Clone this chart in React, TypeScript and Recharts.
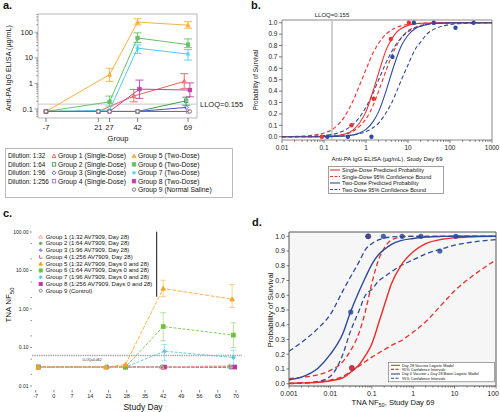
import React from 'react'
import {
  ComposedChart, Line, Scatter, XAxis, YAxis, ReferenceLine, ReferenceArea, ErrorBar, CartesianGrid,
} from 'recharts'

const FONT = '"Liberation Sans", Arial, sans-serif'

// ---------- panel a: anti-PA IgG ELISA by day ----------
const aDays = [-7, 21, 27, 42, 69]
const aMajor = [0.1, 1, 10, 100]
const aMinor = [0.05, 0.06, 0.07, 0.08, 0.09, 0.2, 0.3, 0.4, 0.5, 0.6, 0.7, 0.8, 0.9, 2, 3, 4, 5, 6, 7, 8, 9, 20, 30, 40, 50, 60, 70, 80, 90, 200, 300, 400, 500]

const a1Day = [-7, 21, 40, 67]
const a1Val = [0.08, 0.08, 0.32, 1.2]
const a1Lo = [null, null, 0.19, 0.64]
const a1Hi = [null, null, 0.58, 2.4]
const a2Day = [-7, 21, 42, 68]
const a2Val = [0.08, 0.08, 0.08, 0.21]
const a2Lo = [null, null, null, 0.14]
const a2Hi = [null, null, null, 0.29]
const a3Day = [-7, 21, 42, 68]
const a3Val = [0.08, 0.08, 0.08, 0.115]
const a4Day = [-7, 21, 42, 69]
const a4Val = [0.08, 0.08, 0.08, 0.08]
const a5Day = [-7, 27, 42, 69]
const a5Val = [0.08, 2.2, 250, 190]
const a5Lo = [null, 1.2, 195, 145]
const a5Hi = [null, 3.9, 340, 260]
const a6Day = [-7, 27, 42, 69]
const a6Val = [0.08, 0.19, 60, 33]
const a6Lo = [null, 0.13, 40, 25]
const a6Hi = [null, 0.32, 95, 55]
const a7Day = [-7, 27, 42, 69]
const a7Val = [0.08, 0.09, 24, 14]
const a7Lo = [null, null, 15, 8.2]
const a7Hi = [null, null, 32, 21]
const a8Day = [-7, 27, 43, 70]
const a8Val = [0.08, 0.08, 0.6, 0.55]
const a8Lo = [null, null, 0.26, 0.3]
const a8Hi = [null, null, 1.35, 1.05]
const a9Day = [-7, 21, 27, 42, 70]
const a9Val = [0.08, 0.08, 0.08, 0.08, 0.08]

const aDilutions = ['Dilution: 1:32', 'Dilution: 1:64', 'Dilution: 1:96', 'Dilution: 1:256']
const aNames = [
  'Group 1 (Single-Dose)', 'Group 2 (Single-Dose)', 'Group 3 (Single-Dose)', 'Group 4 (Single-Dose)',
  'Group 5 (Two-Dose)', 'Group 6 (Two-Dose)', 'Group 7 (Two-Dose)', 'Group 8 (Two-Dose)', 'Group 9 (Normal Saline)',
]

// ---------- panel b: survival vs ELISA ----------
const bX = [0.01, 0.03, 0.1, 0.2, 0.3, 0.5, 0.7, 1, 1.5, 2, 3, 4, 5, 7, 10, 15, 20, 30, 50, 100, 300, 1000]
const bSinglePred = [0, 0, 0.002, 0.009, 0.021, 0.06, 0.12, 0.22, 0.41, 0.56, 0.76, 0.85, 0.905, 0.95, 0.977, 0.99, 0.995, 0.998, 1, 1, 1, 1]
const bSingleUp = [0.001, 0.005, 0.032, 0.093, 0.17, 0.32, 0.45, 0.59, 0.74, 0.82, 0.9, 0.935, 0.954, 0.973, 0.985, 0.992, 0.995, 0.997, 0.999, 1, 1, 1]
const bSingleLow = [0, 0, 0.003, 0.01, 0.021, 0.05, 0.09, 0.157, 0.28, 0.4, 0.58, 0.7, 0.78, 0.87, 0.93, 0.96, 0.978, 0.99, 0.996, 0.999, 1, 1]
const bTwoPred = [0, 0, 0.0006, 0.002, 0.0056, 0.016, 0.032, 0.064, 0.137, 0.22, 0.4, 0.55, 0.66, 0.8, 0.89, 0.95, 0.97, 0.988, 0.996, 0.999, 1, 1]
const bTwoUp = [0, 0.002, 0.0105, 0.029, 0.054, 0.11, 0.17, 0.26, 0.39, 0.5, 0.65, 0.74, 0.8, 0.87, 0.92, 0.956, 0.97, 0.984, 0.993, 0.997, 1, 1]
const bTwoLow = [0, 0, 0.0013, 0.0038, 0.0072, 0.016, 0.027, 0.045, 0.081, 0.12, 0.21, 0.29, 0.37, 0.5, 0.63, 0.77, 0.83, 0.91, 0.955, 0.984, 0.997, 1]
const bSingleObsX = [0.089, 0.45, 1.52, 3.9, 10.5]
const bSingleObsP = [0, 0.1, 0.333, 0.857, 1]
const bTwoObsX = [0.12, 0.37, 1.35, 4.26, 13.8, 41, 135, 364]
const bTwoObsP = [0, 0, 0, 0.7, 1, 1, 0.956, 1]
const bLegend = [
  'Single-Dose Predicted Probability', 'Single-Dose 95% Confidence Bound',
  'Two-Dose Predicted Probability', 'Two-Dose 95% Confidence Bound',
]

// ---------- panel c: TNA NF50 by study day ----------
const cDayTicks = [-7, 0, 7, 14, 21, 28, 35, 42, 49, 56, 63, 70]
const cMajor = [0.01, 0.1, 1, 10, 100]
const cMajorLabels = ['0.01', '0.10', '1.00', '10.00', '100.00']
const cMinor = [0.02, 0.05, 0.2, 0.5, 2, 5, 20, 50]
const c1Day = [-6, 20, 41.5, 67.5]
const c1Val = [0.031, 0.031, 0.031, 0.033]
const c2Day = [-6, 20, 41.5, 67.5]
const c2Val = [0.031, 0.031, 0.031, 0.031]
const c3Day = [-6, 20.5, 41.5, 68]
const c3Val = [0.031, 0.031, 0.031, 0.031]
const c4Day = [-6, 20.5, 42, 68]
const c4Val = [0.031, 0.031, 0.031, 0.031]
const c5Day = [-6, 20, 27.5, 42, 68.5]
const c5Val = [0.031, 0.031, 0.036, 3.4, 1.8]
const c5Lo = [null, null, null, 2.1, 1.1]
const c5Hi = [null, null, null, 5.6, 4.3]
const c6Day = [-6, 27.5, 42, 69]
const c6Val = [0.031, 0.031, 0.35, 0.21]
const c6Lo = [null, null, 0.15, 0.1]
const c6Hi = [null, null, 0.8, 0.44]
const c7Day = [-6, 27.5, 42.5, 69]
const c7Val = [0.031, 0.031, 0.08, 0.055]
const c7Lo = [null, null, 0.045, 0.035]
const c7Hi = [null, null, 0.12, 0.085]
const c8Day = [-6, 27.5, 42.5, 69.5]
const c8Val = [0.031, 0.031, 0.031, 0.031]
const c9Day = [-6, 20.5, 41.5, 68]
const c9Val = [0.031, 0.031, 0.031, 0.031]
const cNames = [
  'Group 1 (1:32 AV7909, Day 28)', 'Group 2 (1:64 AV7909, Day 28)', 'Group 3 (1:96 AV7909, Day 28)',
  'Group 4 (1:256 AV7909, Day 28)', 'Group 5 (1:32 AV7909, Days 0 and 28)', 'Group 6 (1:64 AV7909, Days 0 and 28)',
  'Group 7 (1:96 AV7909, Days 0 and 28)', 'Group 8 (1:256 AV7909, Days 0 and 28)', 'Group 9 (Control)',
]

// ---------- panel d: survival vs TNA NF50 ----------
const dX = [0.001, 0.002, 0.005, 0.01, 0.02, 0.03, 0.05, 0.07, 0.1, 0.15, 0.2, 0.3, 0.5, 1, 2, 5, 10, 30, 100]
const dD28Pred = [0.003, 0.005, 0.01, 0.02, 0.04, 0.075, 0.13, 0.19, 0.27, 0.42, 0.53, 0.68, 0.8, 0.895, 0.95, 0.98, 0.99, 0.997, 0.999]
const dD28Up = [0.035, 0.043, 0.06, 0.09, 0.15, 0.22, 0.35, 0.49, 0.68, 0.85, 0.92, 0.975, 0.993, 1, 1, 1, 1, 1, 1]
const dD28Low = [0, 0.003, 0.01, 0.025, 0.05, 0.08, 0.12, 0.15, 0.18, 0.21, 0.23, 0.26, 0.29, 0.35, 0.42, 0.54, 0.63, 0.74, 0.84]
const dBoostPred = [0.027, 0.045, 0.105, 0.2, 0.34, 0.48, 0.63, 0.72, 0.81, 0.88, 0.91, 0.945, 0.97, 0.985, 0.995, 0.999, 1, 1, 1]
const dBoostUp = [0.22, 0.28, 0.375, 0.47, 0.63, 0.72, 0.83, 0.91, 0.95, 0.977, 0.988, 0.995, 0.998, 1, 1, 1, 1, 1, 1]
const dBoostLow = [0.002, 0.005, 0.015, 0.05, 0.2, 0.35, 0.5, 0.6, 0.64, 0.7, 0.725, 0.76, 0.8, 0.84, 0.88, 0.915, 0.94, 0.962, 0.977]
const dBoostObsX = [0.031, 0.081, 0.19, 0.54, 1.54, 4.4, 10.7]
const dBoostObsP = [0.486, 1, 1, 1, 1, 0.9, 1]
const dD28ObsX = [0.033, 0.082]
const dD28ObsP = [0.107, 1]
const dMajor = [0.001, 0.01, 0.1, 1, 10, 100]
const dLegend = [
  'Day 28 Vaccine Logistic Model', '95% Confidence Intervals',
  'Day 0 Vaccine + Day 28 Boost Logistic Model', '95% Confidence Intervals',
]

const probTicks = [0, 0.1, 0.2, 0.3, 0.4, 0.5, 0.6, 0.7, 0.8, 0.9, 1]

// minor log ticks 2..9 per decade
const logMinors = (from: number, to: number) => {
  const out: number[] = []
  for (let e = from; e < to; e++) for (let k = 2; k <= 9; k++) out.push(Number((k * Math.pow(10, e)).toPrecision(3)))
  return out
}

const rowsOf = (xs: number[], ys: number[], lo?: (number | null)[], hi?: (number | null)[]) =>
  xs.map((x, i) => ({
    x,
    y: ys[i],
    err: lo && hi && lo[i] != null && hi[i] != null ? [ys[i] - (lo[i] as number), (hi[i] as number) - ys[i]] : undefined,
  }))

const isIn = (list: number[], v: number) => list.some((m) => Math.abs(m - v) <= 1e-6 * Math.abs(m))

// ---------- markers ----------
function Mk({ x, y, shape, color, s = 2.4 }: { x: number; y: number; shape: string; color: string; s?: number }) {
  const sw = 0.9
  switch (shape) {
    case 'tri':
    case 'triF':
      return <polygon points={`${x},${y - s} ${x + s},${y + s * 0.8} ${x - s},${y + s * 0.8}`} fill={shape === 'triF' ? color : 'none'} stroke={color} strokeWidth={sw} />
    case 'sq':
    case 'sqF':
      return <rect x={x - s * 0.85} y={y - s * 0.85} width={s * 1.7} height={s * 1.7} fill={shape === 'sqF' ? color : 'none'} stroke={color} strokeWidth={sw} />
    case 'dia':
    case 'diaF':
      return <polygon points={`${x},${y - s} ${x + s},${y} ${x},${y + s} ${x - s},${y}`} fill={shape === 'diaF' ? color : 'none'} stroke={color} strokeWidth={sw} />
    case 'circ':
      return <circle cx={x} cy={y} r={s * 0.85} fill="#fff" stroke={color} strokeWidth={sw} />
    case 'circF':
      return <circle cx={x} cy={y} r={s * 0.85} fill={color} />
    case 'L':
      return <path d={`M${x - s * 0.6},${y - s} L${x - s * 0.6},${y + s * 0.7} L${x + s},${y + s * 0.7}`} fill="none" stroke={color} strokeWidth={sw} />
    case 'star':
      return (
        <g stroke={color} strokeWidth={sw}>
          <line x1={x - s} x2={x + s} y1={y} y2={y} />
          <line x1={x} x2={x} y1={y - s} y2={y + s} />
          <line x1={x - s * 0.7} x2={x + s * 0.7} y1={y - s * 0.7} y2={y + s * 0.7} />
          <line x1={x - s * 0.7} x2={x + s * 0.7} y1={y + s * 0.7} y2={y - s * 0.7} />
        </g>
      )
    default:
      return <circle cx={x} cy={y} r={s * 0.8} fill={color} />
  }
}

const dotOf = (shape: string, color: string, s?: number) => (p: any) => {
  if (p.cx == null || p.cy == null) return <g key={p.index} />
  return (
    <g key={`d${p.index}`}>
      <Mk x={p.cx} y={p.cy} shape={shape} color={color} s={s} />
    </g>
  )
}

// ---------- ticks ----------
type TickOpt = {
  side: 'left' | 'bottom'
  majors: number[]
  fmt: (v: number) => string
  fs: number
  size: number
  margin: number
  majorLen: number
  minorLen: number
  color?: string
  lineColor?: string
  maxX?: number
}
const makeTick = (o: TickOpt) => (p: any) => {
  const v = p.payload.value
  const major = isIn(o.majors, v)
  const len = major ? o.majorLen : o.minorLen
  const lc = o.lineColor || '#444'
  if (o.side === 'left') {
    const ax = p.x + o.size + o.margin
    return (
      <g>
        <line x1={ax} x2={ax - len} y1={p.y} y2={p.y} stroke={lc} strokeWidth={0.7} />
        {major && (
          <text x={ax - o.majorLen - 1.5} y={p.y} dy="0.35em" textAnchor="end" fontSize={o.fs} fill={o.color || '#222'} fontFamily={FONT}>
            {o.fmt(v)}
          </text>
        )}
      </g>
    )
  }
  const ay = p.y - o.size - o.margin
  const label = major ? o.fmt(v) : ''
  const halfW = label.length * o.fs * 0.28
  const clamp = o.maxX != null && p.x + halfW > o.maxX
  return (
    <g>
      <line x1={p.x} x2={p.x} y1={ay} y2={ay + len} stroke={lc} strokeWidth={0.7} />
      {major && (
        <text x={clamp ? o.maxX : p.x} y={ay + o.majorLen + 1.5} dy="0.8em" textAnchor={clamp ? 'end' : 'middle'} fontSize={o.fs} fill={o.color || '#222'} fontFamily={FONT}>
          {label}
        </text>
      )}
    </g>
  )
}

// ---------- panel a ----------
const aGroups = [
  { rows: rowsOf(a1Day, a1Val, a1Lo, a1Hi), color: '#f0605a', shape: 'tri' },
  { rows: rowsOf(a2Day, a2Val, a2Lo, a2Hi), color: '#3c9c5c', shape: 'sq' },
  { rows: rowsOf(a3Day, a3Val), color: '#5050c8', shape: 'dia' },
  { rows: rowsOf(a4Day, a4Val), color: '#b070c4', shape: 'sq' },
  { rows: rowsOf(a5Day, a5Val, a5Lo, a5Hi), color: '#f9b040', shape: 'triF' },
  { rows: rowsOf(a6Day, a6Val, a6Lo, a6Hi), color: '#66c266', shape: 'sqF' },
  { rows: rowsOf(a7Day, a7Val, a7Lo, a7Hi), color: '#4ccdf0', shape: 'star' },
  { rows: rowsOf(a8Day, a8Val, a8Lo, a8Hi), color: '#c040a0', shape: 'sqF' },
  { rows: rowsOf(a9Day, a9Val), color: '#707070', shape: 'circ' },
]

function PanelA() {
  const xd: [number, number] = [-11.28, 73.8]
  const yd: [number, number] = [0.0444, 520]
  return (
    <ComposedChart width={250} height={145} margin={{ top: 14, right: 53, bottom: 0, left: 0 }}>
      <XAxis type="number" dataKey="x" domain={xd} ticks={aDays} allowDataOverflow interval={0} height={27}
        axisLine={false} tickLine={false} tickSize={4} tickMargin={2}
        tick={makeTick({ side: 'bottom', majors: aDays, fmt: String, fs: 7.5, size: 4, margin: 2, majorLen: 4, minorLen: 2 })} />
      <YAxis type="number" dataKey="y" scale="log" domain={yd} ticks={[...aMajor, ...aMinor]} allowDataOverflow interval={0} width={38}
        axisLine={false} tickLine={false} tickSize={4} tickMargin={2}
        tick={makeTick({ side: 'left', majors: aMajor, fmt: String, fs: 7.5, size: 4, margin: 2, majorLen: 3.5, minorLen: 1.8, lineColor: '#777' })} />
      <ReferenceArea x1={xd[0]} x2={xd[1]} y1={yd[0]} y2={yd[1]} fill="none" stroke="#b8b8b8" strokeWidth={1} />
      <ReferenceLine y={0.155} stroke="#c8c8c8" strokeWidth={1}
        label={{ value: 'LLOQ=0.155', position: 'right', fontSize: 7.5, fill: '#222', fontFamily: FONT, offset: 3 }} />
      {aGroups.map((g, i) => (
        <Line key={i} data={g.rows} dataKey="y" type="linear" stroke={g.color} strokeWidth={1}
          dot={dotOf(g.shape, g.color, 2)} activeDot={false} isAnimationActive={false}>
          <ErrorBar dataKey="err" width={4} stroke={g.color} strokeWidth={0.9} direction="y" />
        </Line>
      ))}
    </ComposedChart>
  )
}

// ---------- panel b ----------
const bRows = bX.map((x, i) => ({ x, sp: bSinglePred[i], su: bSingleUp[i], sl: bSingleLow[i], tp: bTwoPred[i], tu: bTwoUp[i], tl: bTwoLow[i] }))
const bSingleObs = bSingleObsX.map((x, i) => ({ x, y: bSingleObsP[i] }))
const bTwoObs = bTwoObsX.map((x, i) => ({ x, y: bTwoObsP[i] }))
const RED = '#ee3030'
const BLUE = '#2e4a9c'

function PanelB() {
  const xd: [number, number] = [0.01, 1000]
  const yd: [number, number] = [-0.029, 1.024]
  const xMajor = [0.01, 0.1, 1, 10, 100, 1000]
  return (
    <ComposedChart width={250} height={160} data={bRows} margin={{ top: 20, right: 8, bottom: 0, left: 0 }}>
      <XAxis type="number" dataKey="x" scale="log" domain={xd} ticks={[...xMajor, ...logMinors(-2, 3)]} allowDataOverflow interval={0}
        height={20} axisLine={false} tickLine={false} tickSize={3} tickMargin={2}
        tick={makeTick({ side: 'bottom', majors: xMajor, fmt: String, fs: 6.5, size: 3, margin: 2, majorLen: 3, minorLen: 1.8 })} />
      <YAxis type="number" domain={yd} ticks={probTicks} allowDataOverflow interval={0} width={32}
        axisLine={false} tickLine={false} tickSize={3} tickMargin={2}
        tick={makeTick({ side: 'left', majors: probTicks, fmt: (v) => v.toFixed(1), fs: 6.5, size: 3, margin: 2, majorLen: 3, minorLen: 0 })} />
      <ReferenceArea x1={xd[0]} x2={xd[1]} y1={yd[0]} y2={yd[1]} fill="none" stroke="#8a8a8a" strokeWidth={1} />
      <ReferenceLine x={0.155} stroke="#c4c4c4" strokeWidth={1.6}
        label={{ value: 'LLOQ=0.155', position: 'top', fontSize: 6, fill: '#222', fontFamily: FONT, offset: 3 }} />
      <Line dataKey="su" type="monotone" stroke={RED} strokeWidth={1.1} strokeDasharray="4 2.5" dot={false} activeDot={false} isAnimationActive={false} />
      <Line dataKey="sl" type="monotone" stroke={RED} strokeWidth={1.1} strokeDasharray="4 2.5" dot={false} activeDot={false} isAnimationActive={false} />
      <Line dataKey="tu" type="monotone" stroke={BLUE} strokeWidth={1.1} strokeDasharray="4 2.5" dot={false} activeDot={false} isAnimationActive={false} />
      <Line dataKey="tl" type="monotone" stroke={BLUE} strokeWidth={1.1} strokeDasharray="4 2.5" dot={false} activeDot={false} isAnimationActive={false} />
      <Line dataKey="sp" type="monotone" stroke={RED} strokeWidth={1.1} dot={false} activeDot={false} isAnimationActive={false} />
      <Line dataKey="tp" type="monotone" stroke={BLUE} strokeWidth={1.1} dot={false} activeDot={false} isAnimationActive={false} />
      <Scatter data={bSingleObs} dataKey="y" fill={RED} isAnimationActive={false}
        shape={(p: any) => <circle cx={p.cx} cy={p.cy} r={2.2} fill={RED} />} />
      <Scatter data={bTwoObs} dataKey="y" fill={BLUE} isAnimationActive={false}
        shape={(p: any) => <circle cx={p.cx} cy={p.cy} r={2.2} fill={BLUE} />} />
    </ComposedChart>
  )
}

// ---------- panel c ----------
const cStyle = [
  { color: '#f4a08e', shape: 'tri' },
  { color: '#4caa4c', shape: 'star' },
  { color: '#9a94e4', shape: 'diaF' },
  { color: '#9a50a8', shape: 'L' },
  { color: '#f7a21e', shape: 'triF' },
  { color: '#6cc13c', shape: 'sqF' },
  { color: '#45c3e6', shape: 'star' },
  { color: '#c2309e', shape: 'sqF' },
  { color: '#777777', shape: 'circ' },
]
const cSeries = [
  rowsOf(c1Day, c1Val), rowsOf(c2Day, c2Val), rowsOf(c3Day, c3Val), rowsOf(c4Day, c4Val),
  rowsOf(c5Day, c5Val, c5Lo, c5Hi), rowsOf(c6Day, c6Val, c6Lo, c6Hi), rowsOf(c7Day, c7Val, c7Lo, c7Hi),
  rowsOf(c8Day, c8Val), rowsOf(c9Day, c9Val),
]
const cOrder = [8, 7, 3, 2, 1, 6, 5, 0, 4]

function PanelC() {
  const xd: [number, number] = [-8.42, 72.3]
  const yd: [number, number] = [0.00787, 119.6]
  return (
    <ComposedChart width={250} height={187} margin={{ top: 4, right: 8, bottom: 0, left: 0 }}>
      <XAxis type="number" dataKey="x" domain={xd} ticks={cDayTicks} allowDataOverflow interval={0} height={22}
        axisLine={false} tickLine={false} tickSize={3} tickMargin={2}
        tick={makeTick({ side: 'bottom', majors: cDayTicks, fmt: String, fs: 5.5, size: 3, margin: 2, majorLen: 2.5, minorLen: 0, lineColor: '#555' })} />
      <YAxis type="number" dataKey="y" scale="log" domain={yd} ticks={[...cMajor, ...cMinor]} allowDataOverflow interval={0} width={32}
        axisLine={false} tickLine={false} tickSize={2} tickMargin={1}
        tick={makeTick({ side: 'left', majors: cMajor, fmt: (v) => cMajorLabels[cMajor.findIndex((m) => Math.abs(m - v) < 1e-9 * m + 1e-12)], fs: 5, size: 2, margin: 1, majorLen: 2, minorLen: 1.5, lineColor: '#666' })} />
      <ReferenceLine y={0.062} stroke="#a8a8a8" strokeWidth={1.6} strokeDasharray="1.5 0.8" />
      {cOrder.map((gi) => (
        <Line key={gi} data={cSeries[gi]} dataKey="y" type="linear" stroke={cStyle[gi].color} strokeWidth={gi === 0 ? 1.6 : 0.9}
          strokeDasharray={gi === 4 ? '4 1.5' : '3 1.5'} strokeOpacity={0.9}
          dot={dotOf(cStyle[gi].shape, cStyle[gi].color, 2.2)} activeDot={false} isAnimationActive={false}>
          <ErrorBar dataKey="err" width={3} stroke={cStyle[gi].color} strokeWidth={0.8} strokeOpacity={0.6} direction="y" />
        </Line>
      ))}
    </ComposedChart>
  )
}

// ---------- panel d ----------
const dRows = dX.map((x, i) => ({ x, rp: dD28Pred[i], ru: dD28Up[i], rl: dD28Low[i], bp: dBoostPred[i], bu: dBoostUp[i], bl: dBoostLow[i] }))
const dBoostObs = dBoostObsX.map((x, i) => ({ x, y: dBoostObsP[i] }))
const dD28Obs = dD28ObsX.map((x, i) => ({ x, y: dD28ObsP[i] }))
const DRED = '#ec2b2b'
const DBLUE = '#2b4a9a'

function PanelD() {
  const xd: [number, number] = [0.001, 100]
  const yd: [number, number] = [-0.0156, 1.029]
  return (
    <ComposedChart width={250} height={212} data={dRows} margin={{ top: 32, right: 4, bottom: 0, left: 0 }}>
      <CartesianGrid horizontal={false} vertical={false} fill="#f6f6f6" />
      <XAxis type="number" dataKey="x" scale="log" domain={xd} ticks={[...dMajor, ...logMinors(-3, 2)]} allowDataOverflow interval={0}
        height={26} axisLine={false} tickLine={false} tickSize={2.5} tickMargin={1.5}
        tick={makeTick({ side: 'bottom', majors: dMajor, fmt: String, fs: 7, size: 2.5, margin: 1.5, majorLen: 2.5, minorLen: 1.5, maxX: 249 })} />
      <YAxis type="number" domain={yd} ticks={probTicks} allowDataOverflow interval={0} width={39}
        axisLine={false} tickLine={false} tickSize={2.5} tickMargin={1.5}
        tick={makeTick({ side: 'left', majors: probTicks, fmt: (v) => v.toFixed(1), fs: 7, size: 2.5, margin: 1.5, majorLen: 2.5, minorLen: 0 })} />
      <ReferenceArea x1={xd[0]} x2={xd[1]} y1={yd[0]} y2={yd[1]} fill="none" stroke="#555" strokeWidth={1} />
      <Line dataKey="ru" type="monotone" stroke={DRED} strokeWidth={1.3} strokeDasharray="5 3" dot={false} activeDot={false} isAnimationActive={false} />
      <Line dataKey="rl" type="monotone" stroke={DRED} strokeWidth={1.3} strokeDasharray="5 3" dot={false} activeDot={false} isAnimationActive={false} />
      <Line dataKey="bu" type="monotone" stroke={DBLUE} strokeWidth={1.3} strokeDasharray="5 3" dot={false} activeDot={false} isAnimationActive={false} />
      <Line dataKey="bl" type="monotone" stroke={DBLUE} strokeWidth={1.3} strokeDasharray="5 3" dot={false} activeDot={false} isAnimationActive={false} />
      <Line dataKey="rp" type="monotone" stroke={DRED} strokeWidth={1.4} dot={false} activeDot={false} isAnimationActive={false} />
      <Line dataKey="bp" type="monotone" stroke={DBLUE} strokeWidth={1.4} dot={false} activeDot={false} isAnimationActive={false} />
      <Scatter data={dD28Obs} dataKey="y" fill={DRED} isAnimationActive={false}
        shape={(p: any) => <circle cx={p.cx} cy={p.cy} r={2.6} fill={DRED} stroke={DBLUE} strokeWidth={0.5} />} />
      <Scatter data={dBoostObs} dataKey="y" fill={DBLUE} isAnimationActive={false}
        shape={(p: any) => <circle cx={p.cx} cy={p.cy} r={2.6} fill={DBLUE} fillOpacity={0.85} />} />
    </ComposedChart>
  )
}

// ---------- overlay: panel letters, titles, legends ----------
function Overlay() {
  const txt = { fontFamily: FONT, fill: '#111' }
  const aCol3 = [4, 5, 6, 7, 8]
  const aRowY = (r: number) => 156 + r * 8.4
  const cRowY = (r: number) => 236.7 + r * 6.75
  const bRowY = [170, 176.5, 183, 189.5]
  const dRowY = [365.3, 369.4, 374, 378.3]
  return (
    <svg width={500} height={412} style={{ position: 'absolute', left: 0, top: 0, pointerEvents: 'none' }}>
      {/* letters */}
      <text x={3} y={9} fontSize={11} fontWeight="bold" {...txt}>a.</text>
      <text x={251} y={9} fontSize={11} fontWeight="bold" {...txt}>b.</text>
      <text x={3} y={217} fontSize={11} fontWeight="bold" {...txt}>c.</text>
      <text x={252} y={226} fontSize={11} fontWeight="bold" {...txt}>d.</text>

      {/* panel a titles */}
      <text x={10.5} y={68} fontSize={7.2} textAnchor="middle" transform="rotate(-90 10.5 68)" {...txt}>Anti-PA IgG ELISA (µg/mL)</text>
      <text x={118} y={141} fontSize={7.5} textAnchor="middle" {...txt}>Group</text>

      {/* panel a legend */}
      <rect x={5.5} y={148.5} width={227} height={49} fill="none" stroke="#aaa" strokeWidth={0.8} />
      {aDilutions.map((d, r) => (
        <text key={d} x={8} y={aRowY(r) + 2.3} fontSize={6.4} {...txt}>{d}</text>
      ))}
      {[0, 1, 2, 3].map((gi, r) => (
        <g key={gi}>
          <Mk x={54} y={aRowY(r)} shape={aGroups[gi].shape} color={aGroups[gi].color} s={2} />
          <text x={58} y={aRowY(r) + 2.4} fontSize={6.8} {...txt}>{aNames[gi]}</text>
        </g>
      ))}
      {aCol3.map((gi, r) => (
        <g key={gi}>
          <Mk x={134} y={aRowY(r)} shape={aGroups[gi].shape} color={aGroups[gi].color} s={2} />
          <text x={138} y={aRowY(r) + 2.4} fontSize={6.8} {...txt}>{aNames[gi]}</text>
        </g>
      ))}

      {/* panel b titles + legend */}
      <text x={258} y={80} fontSize={6.3} textAnchor="middle" transform="rotate(-90 258 80)" {...txt}>Probability of Survival</text>
      <text x={387} y={160.5} fontSize={6} textAnchor="middle" {...txt}>Anti-PA IgG ELISA (µg/mL), Study Day 69</text>
      <rect x={328.5} y={166.5} width={115} height={27} fill="none" stroke="#888" strokeWidth={0.8} />
      {bLegend.map((t, i) => (
        <g key={t}>
          <line x1={330} x2={340} y1={bRowY[i]} y2={bRowY[i]} stroke={i < 2 ? RED : BLUE} strokeWidth={1.1} strokeDasharray={i % 2 ? '3 1.5' : undefined} />
          <text x={342} y={bRowY[i] + 2} fontSize={5.5} {...txt}>{t}</text>
        </g>
      ))}

      {/* panel c titles + legend */}
      <text x={11} y={305} fontSize={8} textAnchor="middle" transform="rotate(-90 11 305)" {...txt}>
        TNA NF<tspan fontSize={6} dy={3}>50</tspan>
      </text>
      <text x={143} y={410} fontSize={8.5} textAnchor="middle" {...txt}>Study Day</text>
      <text x={92} y={360.8} fontSize={3.3} textAnchor="middle" {...txt}>LLOQ=0.062</text>
      <line x1={156.7} x2={156.7} y1={231.7} y2={296.7} stroke="#111" strokeWidth={1} />
      {cNames.map((t, i) => (
        <g key={t}>
          <Mk x={40.7} y={cRowY(i)} shape={cStyle[i].shape} color={cStyle[i].color} s={1.8} />
          <text x={45.7} y={cRowY(i) + 2} fontSize={6} {...txt}>{t}</text>
        </g>
      ))}

      {/* panel d titles + legend */}
      <text x={273} y={310} fontSize={7.8} textAnchor="middle" transform="rotate(-90 273 310)" {...txt}>Probability of Survival</text>
      <text x={393} y={405} fontSize={7.6} textAnchor="middle" {...txt}>
        TNA NF<tspan fontSize={5.5} dy={1.5}>50</tspan><tspan dy={-1.5}>, Study Day 69</tspan>
      </text>
      <rect x={388.5} y={362.3} width={106} height={19.5} fill="#fff" stroke="#666" strokeWidth={0.6} />
      {dLegend.map((t, i) => (
        <g key={i}>
          <line x1={391} x2={400} y1={dRowY[i]} y2={dRowY[i]} stroke={i < 2 ? DRED : DBLUE} strokeWidth={1.1} strokeDasharray={i % 2 ? '3 1.5' : undefined} />
          <text x={402} y={dRowY[i] + 1.4} fontSize={3.8} {...txt}>{t}</text>
        </g>
      ))}
    </svg>
  )
}

export default function App() {
  return (
    <div style={{ position: 'absolute', left: 0, top: 0, width: 500, height: 412, background: '#fff', overflow: 'hidden', fontFamily: FONT }}>
      <div style={{ position: 'absolute', left: 0, top: 0 }}><PanelA /></div>
      <div style={{ position: 'absolute', left: 250, top: 0 }}><PanelB /></div>
      <div style={{ position: 'absolute', left: 0, top: 225 }}><PanelC /></div>
      <div style={{ position: 'absolute', left: 250, top: 200 }}><PanelD /></div>
      <Overlay />
    </div>
  )
}
